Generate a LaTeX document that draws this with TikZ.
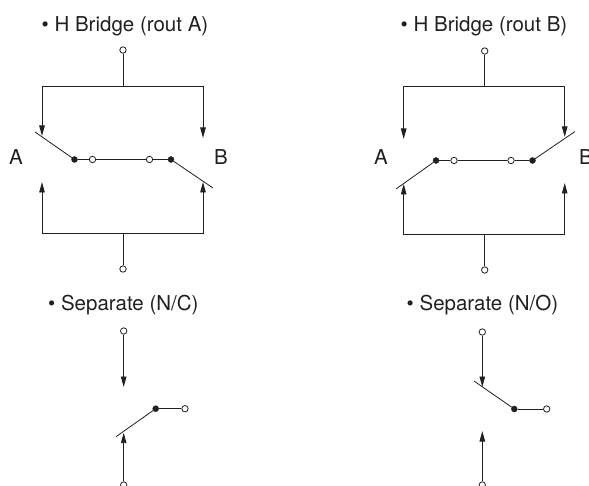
\documentclass[tikz,border=0pt]{standalone}
\usepackage{fontspec}
\setmainfont{TeX Gyre Heros}
\usetikzlibrary{arrows.meta}
\definecolor{ink}{HTML}{231F20}
\tikzset{
  term/.style={circle,draw=ink,fill=white,line width=0.8pt,inner sep=0pt,minimum size=6.4pt},
  pivot/.style={circle,draw=ink,fill=ink,line width=0.4pt,inner sep=0pt,minimum size=6pt},
  wire/.style={draw=ink,line width=0.95pt},
  blade/.style={draw=ink,line width=0.8pt},
  feed/.style={wire,-{Stealth[length=10.5pt,width=5.5pt,inset=0pt]}},
  head/.style={anchor=base west,inner sep=0pt,text=ink,font=\fontsize{20.5}{24}\selectfont},
  pole/.style={anchor=base,inner sep=0pt,text=ink,font=\fontsize{20.5}{24}\selectfont}
}
\begin{document}
\begin{tikzpicture}[x=1pt,y=-1pt]
\useasboundingbox (0,0) rectangle (589,486);
\clip (0,0) rectangle (589,486);
% H Bridge (rout A)
\node[head] (h1) at (41.5,32) {• H Bridge (rout A)};
\node[pole] (a1) at (16,164.5) {A};
\node[pole] (b1) at (221,164.5) {B};
\node[term] (t1) at (123,50) {};
\node[term] (u1) at (123,269) {};
\coordinate (tj1) at (123,86);
\coordinate (tl1) at (42,86);
\coordinate (tr1) at (203,86);
\coordinate (ta1) at (42,136);
\coordinate (tb1) at (203,138);
\coordinate (uj1) at (123,233.5);
\coordinate (ul1) at (42,233.5);
\coordinate (ur1) at (203,233.5);
\coordinate (ua1) at (42,182);
\coordinate (ub1) at (203,182);
\coordinate (e1) at (35,132);
\coordinate (f1) at (213,188);
\node[pivot] (p1) at (74.5,159.5) {};
\node[term] (o1) at (92.5,159.5) {};
\node[term] (q1) at (149.5,159.5) {};
\node[pivot] (r1) at (171,159.5) {};
\draw[wire] (t1) -- (tj1);
\draw[wire] (u1) -- (uj1);
\draw[feed] (tj1) -- (tl1) -- (ta1);
\draw[feed] (tj1) -- (tr1) -- (tb1);
\draw[feed] (uj1) -- (ul1) -- (ua1);
\draw[feed] (uj1) -- (ur1) -- (ub1);
\draw[blade] (e1) -- (p1);
\draw[blade] (f1) -- (r1);
\draw[blade] (p1) -- (o1);
\draw[blade] (o1) -- (q1);
\draw[blade] (q1) -- (r1);
% H Bridge (rout B)
\node[head] (h2) at (400.5,32) {• H Bridge (rout B)};
\node[pole] (a2) at (381,165) {A};
\node[pole] (b2) at (586,165) {B};
\node[term] (t2) at (484.7,51) {};
\node[term] (u2) at (484.7,270) {};
\coordinate (tj2) at (484.7,86.5);
\coordinate (tl2) at (403.7,86.5);
\coordinate (tr2) at (564.7,86.5);
\coordinate (ta2) at (403.7,139);
\coordinate (tb2) at (564.7,137);
\coordinate (uj2) at (484.7,234.5);
\coordinate (ul2) at (403.7,234.5);
\coordinate (ur2) at (564.7,234.5);
\coordinate (ua2) at (403.7,184);
\coordinate (ub2) at (564.7,183);
\coordinate (e2) at (396,189);
\coordinate (f2) at (575,131.5);
\node[pivot] (p2) at (436,160.5) {};
\node[term] (o2) at (454,160.5) {};
\node[term] (q2) at (511,160.5) {};
\node[pivot] (r2) at (532.5,160.5) {};
\draw[wire] (t2) -- (tj2);
\draw[wire] (u2) -- (uj2);
\draw[feed] (tj2) -- (tl2) -- (ta2);
\draw[feed] (tj2) -- (tr2) -- (tb2);
\draw[feed] (uj2) -- (ul2) -- (ua2);
\draw[feed] (uj2) -- (ur2) -- (ub2);
\draw[blade] (e2) -- (p2);
\draw[blade] (f2) -- (r2);
\draw[blade] (p2) -- (o2);
\draw[blade] (o2) -- (q2);
\draw[blade] (q2) -- (r2);
% Separate (N/C)
\node[head] (h3) at (48,311) {• Separate (N/C)};
\node[term] (t3) at (123.7,331) {};
\node[term] (u3) at (123.7,485) {};
\coordinate (ta3) at (123.7,387);
\coordinate (ua3) at (123.7,432.7);
\coordinate (e3) at (116,436.7);
\node[pivot] (p3) at (155.7,408.7) {};
\node[term] (o3) at (185,408.7) {};
\draw[feed] (t3) -- (ta3);
\draw[feed] (u3) -- (ua3);
\draw[blade] (e3) -- (p3);
\draw[wire] (p3) -- (o3);
% Separate (N/O)
\node[head] (h4) at (406.5,311) {• Separate (N/O)};
\node[term] (t4) at (482.3,332) {};
\node[term] (u4) at (482.3,485) {};
\coordinate (ta4) at (482.3,387);
\coordinate (ua4) at (482.3,431);
\coordinate (e4) at (474,381);
\node[pivot] (p4) at (514.3,409) {};
\node[term] (o4) at (546.7,409) {};
\draw[feed] (t4) -- (ta4);
\draw[feed] (u4) -- (ua4);
\draw[blade] (e4) -- (p4);
\draw[wire] (p4) -- (o4);
\end{tikzpicture}
\end{document}
